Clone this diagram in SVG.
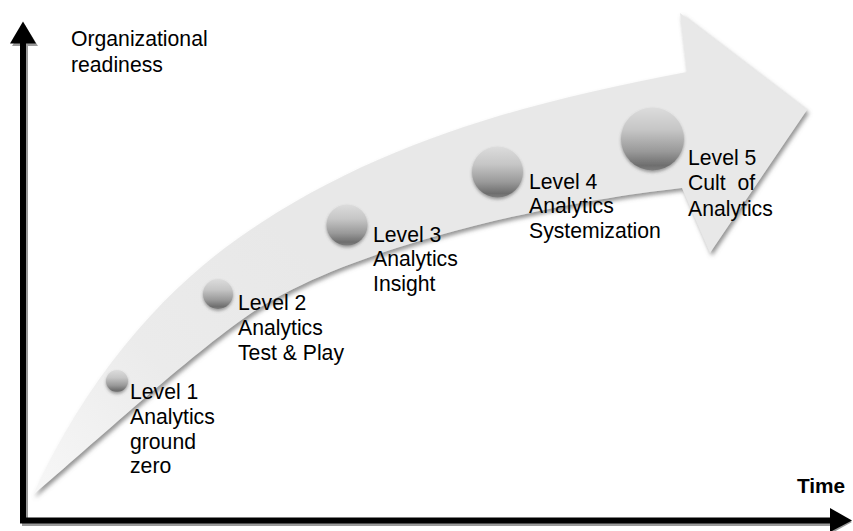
<svg xmlns="http://www.w3.org/2000/svg" width="853" height="531" viewBox="0 0 853 531">
<style>
.lbl{font-family:"Liberation Sans",Arial,sans-serif;font-size:21.2px;fill:#000}
.bold{font-weight:bold;font-size:20.8px}
.axis{stroke:#000;stroke-width:6;fill:none}
.axshadow{stroke:#9a9a9a;stroke-width:6;fill:none}
.ball{fill:url(#ballGrad);filter:url(#ballShadow)}
</style>
<defs>
<linearGradient id="arrowGrad" x1="33" y1="495" x2="300" y2="250" gradientUnits="userSpaceOnUse">
<stop offset="0" stop-color="#f7f7f7"/>
<stop offset="0.5" stop-color="#ebebeb"/>
<stop offset="1" stop-color="#e8e8e8"/>
</linearGradient>
<linearGradient id="ballGrad" x1="0" y1="0" x2="0" y2="1">
<stop offset="0" stop-color="#dcdcdc"/>
<stop offset="0.35" stop-color="#c6c6c6"/>
<stop offset="0.7" stop-color="#999999"/>
<stop offset="0.92" stop-color="#6e6e6e"/>
<stop offset="1" stop-color="#7e7e7e"/>
</linearGradient>
<filter id="arrowShadow" x="-10%" y="-10%" width="120%" height="130%">
<feGaussianBlur in="SourceAlpha" stdDeviation="2.2"/>
<feOffset dx="1.5" dy="2.5" result="b"/>
<feFlood flood-color="#707070" flood-opacity="0.75"/>
<feComposite in2="b" operator="in" result="s"/>
<feMerge><feMergeNode in="s"/><feMergeNode in="SourceGraphic"/></feMerge>
</filter>
<filter id="ballShadow" x="-30%" y="-30%" width="160%" height="170%">
<feGaussianBlur in="SourceAlpha" stdDeviation="1.5"/>
<feOffset dx="0" dy="1.5" result="b"/>
<feFlood flood-color="#505050" flood-opacity="0.5"/>
<feComposite in2="b" operator="in" result="s"/>
<feMerge><feMergeNode in="s"/><feMergeNode in="SourceGraphic"/></feMerge>
</filter>
</defs>
<rect width="853" height="531" fill="#fff"/>
<g id="growth-arrow">
<path d="M33,495 C88,374 165,289.5 240,237 C380,139 537,100.5 687,72 L680,13 L807,110 L710,253 L682,188 C555,202 350,246 250,314 C190,355 93,444 33,495 Z" fill="url(#arrowGrad)" filter="url(#arrowShadow)"/>
</g>
<g id="connectors">
<g id="axis-shadow">
<path class="axshadow" d="M25,46 L25,523 L832,523"/>
<polygon points="12,46 38,46 25,25" fill="#9a9a9a"/>
<polygon points="832,510 832,533 852,522" fill="#9a9a9a"/>
</g>
<g id="axes">
<path class="axis" d="M23,43 L23,520.5 L830,520.5"/>
<polygon points="10,43.5 36,43.5 23,21.5" fill="#000"/>
<polygon points="830,508 830,532 852,520.5" fill="#000"/>
</g>
</g>
<g id="y-label">
<text class="lbl" x="71" y="46">Organizational</text>
<text class="lbl" x="71" y="71.5">readiness</text>
</g>
<g id="x-label">
<text class="lbl bold" x="797" y="493">Time</text>
</g>
<g id="level1">
<circle class="ball" cx="117" cy="381" r="11"/>
<text class="lbl" x="130" y="398.5">Level 1</text>
<text class="lbl" x="130" y="423.5">Analytics</text>
<text class="lbl" x="130" y="448.5">ground</text>
<text class="lbl" x="130" y="473">zero</text>
</g>
<g id="level2">
<circle class="ball" cx="218" cy="294" r="15"/>
<text class="lbl" x="238" y="310">Level 2</text>
<text class="lbl" x="238" y="335">Analytics</text>
<text class="lbl" x="238" y="360">Test &amp; Play</text>
</g>
<g id="level3">
<circle class="ball" cx="347" cy="225" r="20.5"/>
<text class="lbl" x="373" y="241.5">Level 3</text>
<text class="lbl" x="373" y="266">Analytics</text>
<text class="lbl" x="373" y="290.5">Insight</text>
</g>
<g id="level4">
<circle class="ball" cx="497.5" cy="172" r="25.5"/>
<text class="lbl" x="529" y="188.5">Level 4</text>
<text class="lbl" x="529" y="213">Analytics</text>
<text class="lbl" x="529" y="238">Systemization</text>
</g>
<g id="level5">
<circle class="ball" cx="652.5" cy="139" r="31.5"/>
<text class="lbl" x="688" y="165">Level 5</text>
<text class="lbl" x="688" y="190" xml:space="preserve">Cult  of</text>
<text class="lbl" x="688" y="215.5">Analytics</text>
</g>
</svg>
